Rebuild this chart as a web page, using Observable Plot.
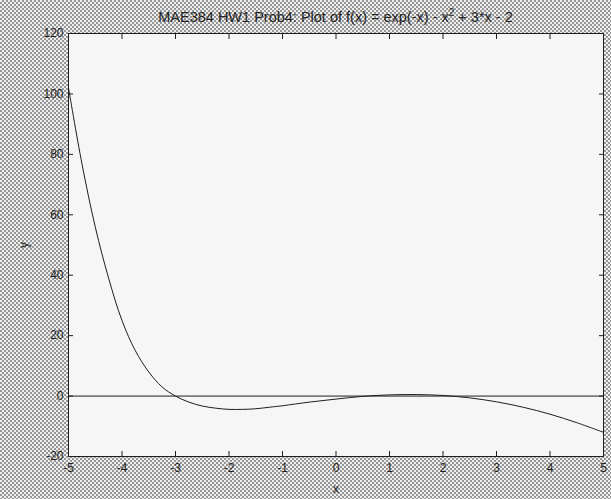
<!DOCTYPE html>
<html><head><meta charset="utf-8">
<script src="https://cdn.jsdelivr.net/npm/d3@7"></script>
<script src="https://cdn.jsdelivr.net/npm/@observablehq/plot@0.6"></script>
<style>
html,body{margin:0;padding:0;}
body{width:611px;height:499px;overflow:hidden;position:relative;
  background:repeating-conic-gradient(#979797 0 25%, #eeeeee 0 50%) 0 0/4px 4px;
  font-family:"Liberation Sans", Arial, sans-serif;}
#title{position:absolute;left:68px;width:535px;top:0;height:33px;text-align:center;
  font-size:14.5px;line-height:34px;color:#222;white-space:nowrap;}
#title sup{font-size:10px;line-height:0;}
#chart{position:absolute;left:0;top:32px;}
</style></head>
<body>
<div id="title">MAE384 HW1 Prob4: Plot of f(x) = exp(-x) - x<sup>2</sup> + 3*x - 2</div>
<div id="chart"></div>
<script>
// values
const xs = [-5, -4.75, -4.5, -4.25, -4, -3.75, -3.5, -3.25, -3, -2.75, -2.5, -2.25, -2, -1.75, -1.5, -1.25, -1, -0.5, 0, 0.5, 1, 1.5, 2, 2.5, 3, 3.5, 4, 4.5, 5];
const ys = [102, 77, 56, 39, 25, 15, 8, 3, 0, -2, -3.3, -4, -4.4, -4.4, -4.2, -3.7, -3.2, -2, -1, -0.1, 0.4, 0.5, 0.2, -0.6, -1.9, -3.7, -6, -8.8, -12];
const xTicks = [-5, -4, -3, -2, -1, 0, 1, 2, 3, 4, 5];
const yTicks = [-20, 0, 20, 40, 60, 80, 100, 120];
const zeroLine = [0];

const data = xs.map((x, i) => ({x, y: ys[i]}));
const fmt = d => String(d);
const ink = "#1e1e1e";

const chart = Plot.plot({
  width: 611,
  height: 467,
  marginTop: 1,
  marginLeft: 68,
  marginRight: 8,
  marginBottom: 43,
  style: {background: "transparent", fontFamily: "'Liberation Sans', Arial, sans-serif", fontSize: "12px", color: ink, overflow: "visible"},
  x: {domain: [-5, 5]},
  y: {domain: [-20, 120]},
  marks: [
    Plot.frame({fill: "#f6f6f6", stroke: null}),
    Plot.ruleY(zeroLine, {stroke: ink, strokeWidth: 1}),
    Plot.line(data, {x: "x", y: "y", curve: "catmull-rom", stroke: ink, strokeWidth: 1}),
    Plot.axisX(xTicks, {anchor: "bottom", tickSize: -5, tickPadding: 12, tickFormat: fmt, label: "x", labelAnchor: "center", labelArrow: "none", labelOffset: 36, stroke: ink, fill: ink}),
    Plot.axisX(xTicks, {anchor: "top", tickSize: -5, tickFormat: () => "", label: null, stroke: ink}),
    Plot.axisY(yTicks, {anchor: "left", tickSize: -5, tickPadding: 10, tickFormat: fmt, label: "y", labelAnchor: "center", labelArrow: "none", labelOffset: 49, stroke: ink, fill: ink}),
    Plot.axisY(yTicks, {anchor: "right", tickSize: -5, tickFormat: () => "", label: null, stroke: ink}),
    Plot.frame({stroke: ink, strokeWidth: 1})
  ]
});
document.getElementById("chart").appendChild(chart);
</script>
</body></html>
